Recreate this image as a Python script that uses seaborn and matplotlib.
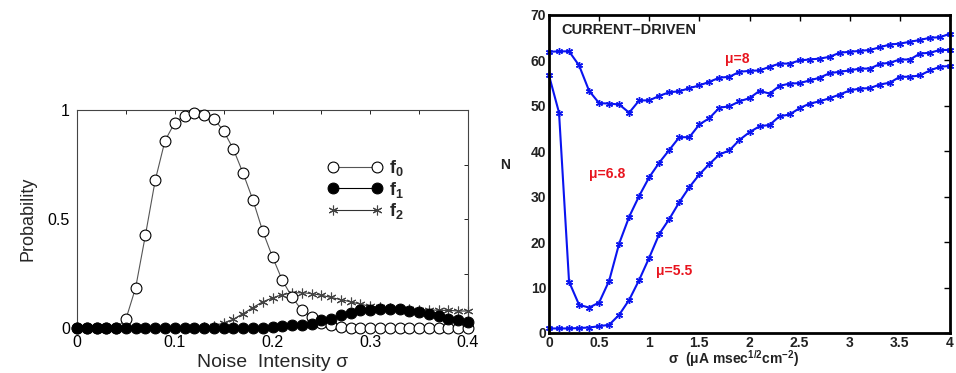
import numpy as np
import pandas as pd
import matplotlib
matplotlib.use("Agg")
import matplotlib.pyplot as plt
import seaborn as sns

# ---------------- data: left panel ----------------
noise = [round(0.01 * i, 2) for i in range(41)]
f0 = [0, 0, 0, 0, 0, 0.04, 0.185, 0.426, 0.677, 0.859, 0.942, 0.974, 0.988, 0.977, 0.960,
      0.904, 0.82, 0.709, 0.587, 0.444, 0.326, 0.219, 0.142, 0.081, 0.05, 0.025, 0.012,
      0.005, 0.002, 0, 0, 0, 0, 0, 0, 0, 0, 0, 0, 0, 0]
f1 = [0, 0, 0, 0, 0, 0, 0, 0, 0, 0, 0, 0, 0, 0, 0, 0, 0, 0, 0, 0.002, 0.005, 0.008,
      0.012, 0.015, 0.02, 0.035, 0.043, 0.058, 0.07, 0.081, 0.084, 0.089, 0.089, 0.086,
      0.08, 0.073, 0.066, 0.054, 0.043, 0.035, 0.028]
f2 = [0, 0, 0, 0, 0, 0, 0, 0, 0, 0, 0, 0, 0, 0.003, 0.01, 0.023, 0.04, 0.066, 0.094,
      0.12, 0.138, 0.153, 0.161, 0.162, 0.158, 0.15, 0.14, 0.13, 0.12, 0.109, 0.1, 0.096,
      0.093, 0.089, 0.089, 0.084, 0.084, 0.081, 0.081, 0.078, 0.078]
left_series = ["f$_0$", "f$_1$", "f$_2$"]

# ---------------- data: right panel ----------------
sigma = [round(0.1 * i, 1) for i in range(41)]
n_mu8 = [61.9, 62.0, 62.0, 58.9, 53.3, 50.6, 50.5, 50.3, 48.5, 51.2, 51.2, 52.2, 53.0,
         53.2, 53.9, 54.5, 55.3, 56.2, 56.4, 57.5, 57.7, 57.8, 58.6, 59.3, 59.3, 60.0,
         60.2, 60.4, 60.8, 61.7, 61.9, 62.1, 62.3, 62.9, 63.5, 63.7, 64.1, 64.5, 65.0,
         65.1, 65.9]
n_mu68 = [56.7, 48.5, 11.3, 6.2, 5.6, 6.7, 11.5, 19.7, 25.6, 30.2, 34.3, 37.5, 40.3,
          43.1, 43.1, 45.9, 47.3, 49.6, 49.9, 51.0, 51.7, 53.3, 52.7, 54.4, 54.9, 55.0,
          55.6, 56.2, 57.2, 57.5, 57.8, 58.2, 58.2, 59.2, 59.5, 60.2, 60.2, 61.5, 61.7,
          62.3, 62.3]
n_mu55 = [1.0, 1.0, 1.0, 1.1, 1.2, 1.5, 1.8, 4.0, 7.3, 11.7, 16.6, 21.8, 25.1, 28.8,
          32.1, 34.9, 37.2, 39.3, 40.2, 42.5, 44.2, 45.5, 45.8, 47.7, 48.1, 49.5, 50.5,
          51.0, 51.7, 52.5, 53.4, 53.8, 53.9, 54.7, 55.1, 56.4, 56.4, 56.7, 57.8, 58.6,
          58.8]
mu_labels = ["\u03bc=8", "\u03bc=6.8", "\u03bc=5.5"]
left_xticklabels = ["0", "", "0.1", "", "0.2", "", "0.3", "", "0.4"]
left_yticklabels = ["0", "", "0.5", "", "1"]
right_xticks = [0, 0.5, 1, 1.5, 2, 2.5, 3, 3.5, 4]
right_xticklabels = ["0", "0.5", "1", "1.5", "2", "2.5", "3", "3.5", "4"]
right_yticks = [0, 10, 20, 30, 40, 50, 60, 70]

sns.set_theme(style="white")
plt.rcParams["font.family"] = ["Liberation Sans", "DejaVu Sans"]
plt.rcParams["mathtext.fontset"] = "custom"
plt.rcParams["mathtext.rm"] = "Liberation Sans:bold"
plt.rcParams["mathtext.it"] = "Liberation Sans:bold"
plt.rcParams["mathtext.bf"] = "Liberation Sans:bold"

fig = plt.figure(figsize=(9.56, 3.73), dpi=100)
axL = fig.add_axes([77 / 956, 1 - 328 / 373, (468 - 77) / 956, (328 - 110) / 373])
axR = fig.add_axes([549 / 956, 1 - 333 / 373, (950 - 549) / 956, (333 - 15) / 373])

# ---------------- left panel ----------------
dfL = pd.DataFrame({"x": noise, "f0": f0, "f1": f1, "f2": f2})
sns.lineplot(data=dfL, x="x", y="f0", ax=axL, color="#555555", lw=0.8, marker="o",
             markersize=7.8, markerfacecolor="white", markeredgecolor="black",
             markeredgewidth=0.8, label=left_series[0], clip_on=False, zorder=3)
sns.lineplot(data=dfL, x="x", y="f1", ax=axL, color="black", lw=0.8, marker="o",
             markersize=7.8, markerfacecolor="black", markeredgecolor="black",
             label=left_series[1], clip_on=False, zorder=4)
sns.lineplot(data=dfL, x="x", y="f2", ax=axL, color="#333333", lw=0.8, marker=(6, 2, 0),
             markersize=7, markeredgecolor="#444444", markeredgewidth=0.8,
             label=left_series[2], clip_on=False, zorder=2)
axL.set_xlim(0, 0.4)
axL.set_ylim(0, 1)
axL.set_xticks(np.arange(0, 0.401, 0.05))
axL.set_xticklabels(left_xticklabels)
axL.set_yticks([0, 0.25, 0.5, 0.75, 1])
axL.set_yticklabels(left_yticklabels)
axL.tick_params(direction="in", top=True, right=True, length=3, width=0.6,
                labelsize=11.5, colors="black", pad=5)
for s in axL.spines.values():
    s.set_color("#444444")
    s.set_linewidth(0.8)
axL.spines["bottom"].set_visible(False)
axL.set_xlabel("Noise  Intensity \u03c3", fontsize=14, labelpad=3)
axL.set_ylabel("Probability", fontsize=13, labelpad=8)
axL.legend(loc="upper left", bbox_to_anchor=(0.6, 0.855), frameon=False,
           numpoints=2, handlelength=3.0, labelspacing=0.1, handletextpad=0.4,
           prop={"size": 13, "weight": "bold"})

# ---------------- right panel ----------------
dfR = pd.DataFrame({"s": sigma, "a": n_mu8, "b": n_mu68, "c": n_mu55})
for col in ["a", "b", "c"]:
    sns.lineplot(data=dfR, x="s", y=col, ax=axR, color="#0a14f0", lw=1.5,
                 marker=(6, 2, 0), markersize=5, markeredgewidth=1.0,
                 markeredgecolor="#0a14f0", clip_on=False)
axR.set_xlim(0, 4)
axR.set_ylim(0, 70)
axR.set_xticks(right_xticks)
axR.set_xticklabels(right_xticklabels)
axR.set_yticks(right_yticks)
axR.tick_params(direction="in", top=True, right=True, length=4, width=1.0,
                labelsize=10, colors="black", pad=2)
for lab in axR.get_xticklabels() + axR.get_yticklabels():
    lab.set_fontweight("bold")
    lab.set_color("#222222")
for s in axR.spines.values():
    s.set_color("black")
    s.set_linewidth(2.0)
axR.set_xlabel("")
axR.set_ylabel("")
axR.text(0.03, (333 - 30) / 318, "CURRENT\u2013DRIVEN", transform=axR.transAxes,
         fontsize=10.5, fontweight="bold", color="#222222", va="center", ha="left")
axR.text(1.76, 60.3, mu_labels[0], color="#e8141e", fontsize=10, fontweight="bold",
         ha="left", va="center")
axR.text(0.4, 35.0, mu_labels[1], color="#e8141e", fontsize=10, fontweight="bold",
         ha="left", va="center")
axR.text(1.07, 13.6, mu_labels[2], color="#e8141e", fontsize=10, fontweight="bold",
         ha="left", va="center")
fig.text(500 / 956, 1 - 165 / 373, "N", fontsize=10, fontweight="bold",
         color="#222222", ha="left", va="center")
fig.text(734 / 956, 1 - 359 / 373,
         "\u03c3  (\u03bcA msec$^{1/2}$cm$^{-2}$)", fontsize=10, fontweight="bold",
         color="#222222", ha="center", va="center")

fig.savefig("out.png", dpi=100)
